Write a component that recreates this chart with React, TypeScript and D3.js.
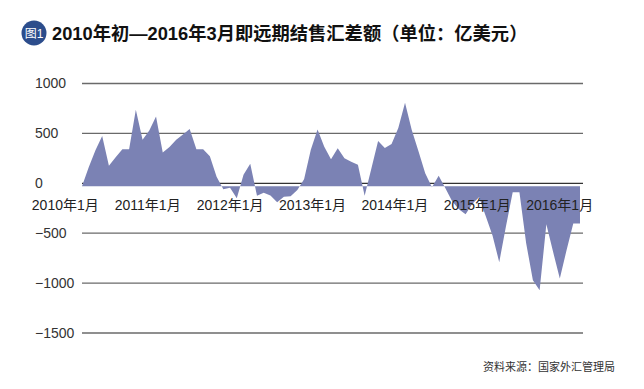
import React from "react"
import * as d3 from "d3"

// monthly net forward settlement, Jan 2010 .. Mar 2016 (100m USD)
const values = [
  -30, 160, 330, 475, 175, 260, 342, 342, 738, 437, 530, 670,
  309, 364, 437, 490, 545, 342, 342, 270, 66, -60, -45, -150,
  85, 195, -124, -94, -122, -190, -134, -130, -68, 40, 335, 540,
  366, 240, 352, 250, 217, 185, -124, 148, 425, 354, 394, 555,
  807, 534, 321, 100, -40, 75, -50, -180, -260, -310, -206, -139,
  -330, -522, -790, -430, -90, -90, -600, -972, -1072, -410, -687, -955,
  -671, -402, -402,
]
const xLabels = ["2010年1月", "2011年1月", "2012年1月", "2013年1月", "2014年1月", "2015年1月", "2016年1月"]
const yTicks = [1000, 500, 0, -500, -1000, -1500]
const baseValue = -30

const title = "2010年初—2016年3月即远期结售汇差额（单位：亿美元）"
const source = "资料来源：国家外汇管理局"

const width = 644
const height = 389
const font = "'Liberation Sans', Arial, 'Noto Sans CJK SC', sans-serif"

const App = () => {
  const x = d3.scaleLinear().domain([0, values.length - 1]).range([82, 580])
  const y = d3.scaleLinear().domain([-1500, 1000]).range([333, 83.5])
  const labelX = d3.scalePoint().domain(xLabels).range([65.3, 559.7])

  const area = d3
    .area<number>()
    .x((d, i) => x(i))
    .y0(y(baseValue))
    .y1((d) => y(d))

  const fmt = (v: number) => (v < 0 ? "−" + Math.abs(v) : String(v))

  return (
    <svg
      width={width}
      height={height}
      style={{ position: "absolute", left: 0, top: 0, background: "#fff" }}
    >
      <rect width={width} height={height} fill="#fff" />
      <circle cx={34} cy={33} r={12.5} fill="#2c4d8c" />
      <text x={34} y={37.5} textAnchor="middle" fontSize={12} fill="#fff" fontFamily={font}>
        图1
      </text>
      <text x={52} y={39.5} fontSize={18.3} fontWeight="bold" fill="#111" fontFamily={font}>
        {title}
      </text>

      {yTicks.map((t) => (
        <g key={t}>
          <line
            x1={82}
            x2={583}
            y1={y(t)}
            y2={y(t)}
            stroke={t === 0 ? "#333" : "#6a6a6a"}
            strokeWidth={1.3}
          />
          <text
            x={35}
            y={y(t)}
            dy="0.35em"
            fontSize={14}
            fill="#333"
            fontFamily={font}
          >
            {fmt(t)}
          </text>
        </g>
      ))}

      <path d={area(values) || ""} fill="#7b82b4" />

      {xLabels.map((l) => (
        <text
          key={l}
          x={labelX(l)}
          y={210}
          textAnchor="middle"
          fontSize={14}
          fill="#222"
          fontFamily={font}
        >
          {l}
        </text>
      ))}

      <text x={615} y={371} textAnchor="end" fontSize={11} fill="#333" fontFamily={font}>
        {source}
      </text>
    </svg>
  )
}

export default App
